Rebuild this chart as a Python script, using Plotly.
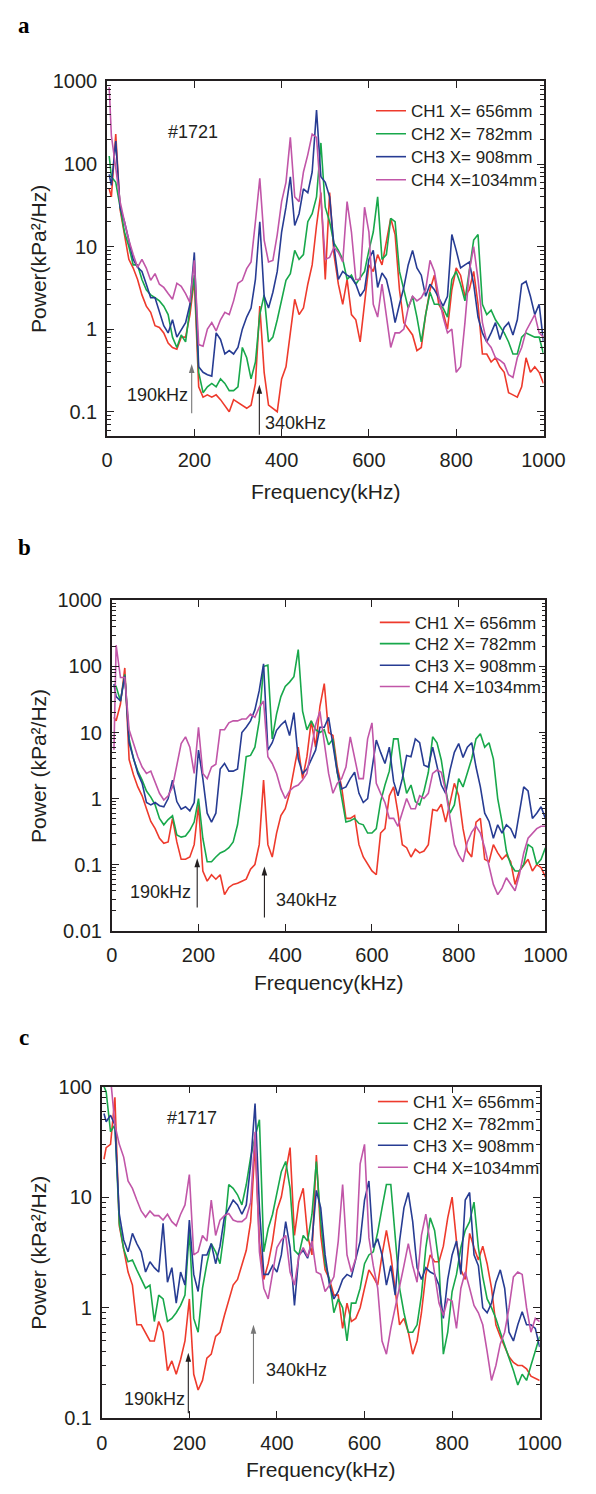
import numpy as np
import plotly.graph_objects as go

FONT = "Liberation Sans, Arial, Helvetica, sans-serif"
SERIF = "Liberation Serif, Times New Roman, serif"
INK = "#231f20"
GREY = "#777777"
W, H = 596, 1494

# frequency grid (kHz)
freq = [5] + list(range(10, 1001, 10))

channels = ["CH1 X= 656mm", "CH2 X= 782mm", "CH3 X= 908mm", "CH4 X=1034mm"]
colors = ["#ee3a2c", "#18a84b", "#273c93", "#c156a8"]

# ---------------- panel a (#1721) ----------------
a_ch1 = [50, 40, 230, 28, 14, 7, 5.5, 4, 2.6, 1.9,
         1.6, 1.1, 1.05, 0.9, 0.68, 0.6, 0.57, 0.8, 0.8, 1.5,
         4, 0.2, 0.15, 0.16, 0.15, 0.16, 0.14, 0.12, 0.1, 0.14,
         0.13, 0.12, 0.11, 0.12, 0.22, 1.9, 0.3, 0.12, 0.11, 0.1,
         0.25, 0.35, 0.9, 2.3, 1.5, 1.8, 3.5, 6, 18, 45,
         4, 45, 8, 3.5, 2, 4, 1.5, 1.3, 0.7, 2,
         6, 5, 8, 6, 12, 22, 14, 3, 1.2, 1.0,
         0.85, 0.55, 0.6, 1.5, 3, 4.5, 2, 1.6, 1.0, 3,
         5.5, 4.5, 2.5, 3, 5, 2, 0.5, 0.5, 0.4, 0.45,
         0.35, 0.3, 0.17, 0.16, 0.15, 0.2, 0.45, 0.3, 0.35, 0.3,
         0.22]
a_ch2 = [125, 70, 60, 30, 15, 10, 6, 6, 4, 3,
         2.6, 2.4, 2.2, 1.9, 1.5, 0.8, 0.6, 0.85, 0.7, 1.8,
         4.5, 0.3, 0.17, 0.2, 0.22, 0.2, 0.25, 0.22, 0.18, 0.18,
         0.2, 0.6, 0.45, 0.25, 0.4, 1.5, 2.6, 0.7, 0.8, 1.3,
         2.3, 3.9, 4.7, 9, 7, 8, 20, 25, 40, 180,
         30, 20, 11, 9, 7, 4, 4.5, 3.5, 4.2, 5,
         9, 15, 40, 7, 8, 22, 20, 5, 3, 1.8,
         2.5, 1.4, 0.7, 1.5, 2.8, 2, 2, 1.8, 1.4, 4,
         5, 3.5, 2.2, 5, 12, 14, 2, 1.5, 1.7, 1.3,
         1.1, 0.9, 0.7, 0.5, 0.5, 0.8, 0.9, 0.85, 0.8, 0.8,
         0.5]
a_ch3 = [75, 55, 190, 30, 20, 12, 7, 5.6, 5, 3.5,
         2.4, 2.4, 1.6, 1.1, 0.9, 1.3, 0.8, 1.0, 1.2, 2.0,
         8.5, 0.35, 0.3, 0.28, 0.27, 0.9, 0.75, 0.5, 0.55, 0.5,
         0.6, 1.0, 1.4, 1.8, 4, 20, 2.5, 1.8, 2.8, 5,
         15, 30, 70, 18, 25, 50, 45, 80, 450, 70,
         60, 40, 10, 4, 5, 4.5, 4.2, 3.5, 2.5, 3,
         7, 9, 3.2, 4.8, 4, 2.4, 1.2, 2, 3.2, 6,
         9, 5.5, 4.5, 2.5, 3.5, 3, 2.4, 1.9, 2.5, 14,
         9, 5.5, 6, 6.5, 3.5, 1.4, 0.9, 0.7, 0.9, 1.2,
         0.75, 1.05, 1.2, 0.85, 1.3, 3.5, 3.8, 2.5, 1.5, 2,
         0.7]
a_ch4 = [850, 220, 90, 35, 20, 12, 8, 5.6, 7, 5.5,
         3.9, 4.7, 3.5, 3.2, 2.7, 2.3, 3.6, 3.3, 2.7, 2.1,
         6.8, 0.65, 0.62, 1.0, 1.2, 0.95, 1.3, 1.6, 1.5, 2.2,
         3.6, 3.9, 5.4, 6.5, 20, 67, 12, 6.5, 6.8, 14,
         35, 60, 210, 40, 35, 80, 130, 230, 210, 40,
         7, 7.4, 9.8, 8.5, 6.5, 35, 15, 4, 4, 30,
         15, 2, 1.4, 3.5, 1.5, 0.6, 0.9, 0.9, 1.0, 1.8,
         2.5, 2.2, 2.4, 3, 6.8, 5, 2.5, 1.4, 0.9, 1.0,
         0.3, 0.35, 1.2, 5, 10, 4, 1.2, 0.7, 0.6, 0.45,
         0.42, 0.38, 0.28, 0.26, 0.45, 0.6, 0.95, 1.2, 1.5, 0.9,
         0.8]

# ---------------- panel b ----------------
b_ch1 = [17, 15, 27, 95, 3.9, 2.3, 1.5, 1.1, 0.7, 0.45,
         0.35, 0.25, 0.21, 0.22, 0.5, 0.22, 0.12, 0.12, 0.13, 0.2,
         0.8, 0.08, 0.056, 0.07, 0.06, 0.07, 0.035, 0.045, 0.05, 0.052,
         0.056, 0.06, 0.085, 0.1, 0.2, 1.9, 0.2, 0.13, 0.3, 0.55,
         0.7, 1.2, 2.7, 6, 2, 4.3, 15, 6, 25, 55,
         10, 9, 3, 1.5, 0.5, 0.5, 0.55, 0.2, 0.13, 0.1,
         0.08, 0.07, 0.3, 0.35, 1.1, 1.5, 0.6, 0.2, 0.18, 0.13,
         0.17, 0.15, 0.16, 0.2, 0.68, 0.65, 0.82, 0.44, 0.85, 1.7,
         1.1, 0.35, 0.16, 0.13, 0.44, 0.5, 0.12, 0.11, 0.2, 0.15,
         0.12, 0.14, 0.11, 0.05, 0.08, 0.1, 0.12, 0.08, 0.1, 0.09,
         0.065]
b_ch2 = [54, 50, 30, 76, 8, 4, 2.6, 1.9, 1.3, 1.05,
         0.8, 0.5, 0.4, 0.48, 0.55, 0.28, 0.26, 0.27, 0.33, 0.44,
         1.0, 0.25, 0.11, 0.11, 0.13, 0.15, 0.16, 0.18, 0.22, 0.4,
         1.2, 4.3, 4.5, 6, 15, 100, 105, 8, 19, 35,
         50, 58, 70, 180, 21, 11, 15, 11, 10, 11,
         6.5, 8, 2.5, 1.1, 0.44, 0.46, 0.5, 0.42, 0.4, 0.3,
         0.3, 0.35, 0.9, 1.6, 2.6, 8, 8, 2.5, 1.2, 1.6,
         0.9, 0.8, 1.3, 2.5, 8.6, 7, 3.8, 1.4, 0.6, 0.8,
         2, 1.5, 2.5, 4, 8, 9.6, 6, 7, 4, 1.0,
         0.44, 0.16, 0.1, 0.08, 0.08, 0.1, 0.2, 0.18, 0.1, 0.12,
         0.18]
b_ch3 = [54, 35, 30, 72, 7, 3.9, 2.4, 1.7, 0.87, 0.8,
         0.87, 0.78, 0.75, 1.0, 1.9, 0.9, 0.69, 0.75, 0.65, 0.87,
         5.4, 2, 0.6, 0.44, 0.6, 2.8, 3.4, 2.6, 2.6, 2.8,
         10, 12, 15, 22, 43, 110, 5.4, 7, 10.8, 13,
         15, 9, 20, 4, 2.4, 2.8, 4, 5.4, 12, 12,
         17, 6, 2.5, 1.4, 1.5, 2, 2.5, 1.2, 0.87, 1.0,
         2.8, 7.7, 5, 3.4, 6, 1.8, 1.1, 2, 4.5, 4.3,
         8, 7, 3.2, 3, 6, 3.2, 1.6, 1.2, 2.7, 5,
         6.8, 4.2, 6, 7, 3, 1.5, 0.6, 0.45, 0.25, 0.4,
         0.3, 0.4, 0.35, 0.25, 0.6, 1.5, 1.3, 0.5, 0.6, 0.75,
         0.5]
b_ch4 = [5.5, 210, 68, 68, 11, 6.8, 4.3, 3, 2.4, 2.6,
         1.8, 1.2, 0.95, 1.1, 1.5, 3.2, 6.8, 8.6, 6, 2.4,
         12, 2.4, 2, 3, 3.3, 11, 11, 14, 15, 15,
         16, 16, 19, 17, 24, 30, 4.3, 3.4, 2.4, 1.4,
         1.0, 1.3, 1.5, 1.6, 1.9, 2.4, 6, 13, 21, 7,
         2.4, 1.2, 1.7, 2, 3, 8.6, 4.4, 2.0, 2.0, 8,
         14, 1.7, 1.2, 0.87, 0.5, 0.5, 0.38, 0.6, 1.0, 0.7,
         0.7, 1.1, 1.0, 1.2, 2.4, 2.7, 2.5, 1.3, 0.5, 0.2,
         0.14, 0.11, 0.22, 0.31, 0.38, 0.3, 0.18, 0.1, 0.05, 0.035,
         0.044, 0.063, 0.05, 0.04, 0.07, 0.15, 0.25, 0.3, 0.35, 0.38,
         0.38]

# ---------------- panel c (#1717) ----------------
c_ch1 = [22, 28, 30, 80, 5.5, 3.4, 2.1, 1.6, 0.7, 0.7,
         0.6, 0.5, 0.5, 0.75, 0.6, 0.27, 0.33, 0.25, 0.34, 0.5,
         1.2, 0.25, 0.18, 0.22, 0.35, 0.38, 0.55, 0.6, 0.85, 1.15,
         1.6, 1.8, 2.4, 3.3, 6, 30, 4, 1.8, 2.5, 4,
         7.6, 10, 17, 28, 4.5, 9, 12, 4.5, 3, 24,
         4.5, 2.2, 1.8, 1.3, 1.3, 0.65, 1.1, 0.75, 0.8, 1.0,
         1.5, 2.2, 1.9, 1.6, 3, 5, 3, 1.4, 0.7, 0.8,
         0.6, 0.38, 0.5, 0.9, 2.0, 3, 2.6, 2.6, 3.6, 6.5,
         10, 4, 2.2, 1.8, 4.7, 3.5, 2.7, 3.6, 2.5, 1.5,
         0.7, 0.55, 0.44, 0.36, 0.32, 0.3, 0.3, 0.28, 0.24, 0.23,
         0.22]
c_ch2 = [100, 90, 39, 45, 5.8, 3.4, 2.6, 2.7, 2.2, 1.8,
         1.5, 1.6, 0.75, 1.3, 1.2, 0.75, 0.8, 0.9, 1.05, 1.3,
         5, 0.8, 0.6, 1.5, 2.5, 3.8, 3.2, 2.5, 5, 13,
         12, 10.5, 8.5, 13, 23, 35, 50, 3.2, 5.2, 7,
         11, 17, 21, 12, 3.3, 3, 4.5, 4, 7, 21,
         6, 2.5, 1.8, 0.9, 1.2, 1.0, 0.5, 1.1, 1.1, 1.5,
         2.5, 3, 3.2, 4.8, 8, 13, 13, 4, 1.5, 0.9,
         0.6, 0.6, 0.7, 1.3, 3.5, 6.5, 5, 2.5, 0.38, 0.6,
         1.4, 2, 3.5, 5, 6, 9, 3.5, 1.9, 1.2, 1.0,
         0.8, 0.6, 0.45, 0.35, 0.27, 0.2, 0.25, 0.22, 0.3, 0.4,
         0.55]
c_ch3 = [57, 48, 55, 45, 7, 4.1, 3.2, 4.7, 3.8, 3.2,
         2.1, 2.6, 2.3, 2.1, 5.8, 1.7, 2.3, 1.1, 2.1, 1.6,
         6.2, 2, 1.4, 3, 3, 3.8, 2.5, 3.6, 6.6, 8,
         9.4, 8.5, 7, 8.5, 20, 70, 8, 2, 2, 2.4,
         2.1, 3, 6, 3.5, 1.05, 3, 3.3, 2.8, 4, 11.5,
         8, 3, 1.6, 1.2, 1.4, 1.8, 2, 1.9, 2.8, 4,
         9.4, 14, 3.5, 4.2, 3, 1.6, 2.4, 1.3, 4, 8,
         11, 6, 2.3, 1.8, 2.3, 2.1, 2.0, 1.6, 0.8, 1.8,
         3, 4, 2, 9.4, 11, 3, 2.4, 1.0, 0.9, 1.1,
         1.7, 2.2, 1.5, 0.6, 0.5, 0.7, 0.92, 0.7, 0.7, 0.65,
         0.44]
c_ch4 = [180, 150, 120, 45, 30, 23, 14, 12, 9.4, 7.5,
         6.6, 7.5, 6.8, 6.8, 6.2, 7, 6, 5.5, 7, 8.5,
         16, 3, 3.2, 4.5, 4, 9.4, 4.5, 6.2, 6.8, 7.1,
         6.2, 6, 6, 6.5, 9, 39, 3.2, 1.5, 1.2, 2.1,
         3.5, 4.1, 4.5, 2.1, 1.6, 2.9, 3.5, 2.9, 4, 2.1,
         2, 1.4, 1.6, 1.9, 4, 13, 3, 2.1, 2.8, 20,
         30, 4.3, 2.4, 1.5, 0.5, 0.38, 0.65, 1.0, 1.5, 2.4,
         3.8, 2.4, 1.7, 4.5, 7, 3.8, 2.2, 1.1, 0.85, 1.2,
         1.15, 0.65, 1.5, 2.1, 1.5, 1.05, 0.9, 0.7, 0.4, 0.22,
         0.3, 0.47, 0.6, 1.0, 1.9, 2.1, 2.0, 1.0, 0.6, 0.8,
         0.75]

x_ticks = [0, 200, 400, 600, 800, 1000]

# panel geometry (pixels in the 596x1494 page) and settings
# arrows: (frequency, head pixel-y, tail pixel-y, colour)
panels = [
    dict(tag="a", series=[a_ch1, a_ch2, a_ch3, a_ch4],
         left=106, right=564, top=71.5, bottom=431, yrange=[-1.29, 3],
         yticks=[0.1, 1, 10, 100, 1000], ytext=["0.1", "1", "10", "100", "1000"],
         ytitle="Power(kPa²/Hz)", label_y=15, xtitle_y=488,
         leg_x=423, leg_rows=[101.7, 125, 148.3, 171.7],
         shot="#1721", shot_pos=(196, 2.382),
         arrows=[(194, 358.3, 408.3, GREY), (349, 379.3, 430, INK)],
         t190=(190, 0.158), t340=(357, 0.0726)),
    dict(tag="b", series=[b_ch1, b_ch2, b_ch3, b_ch4],
         left=111, right=566, top=598.3, bottom=933.3, yrange=[-2, 3],
         yticks=[0.01, 0.1, 1, 10, 100, 1000],
         ytext=["0.01", "0.1", "1", "10", "100", "1000"],
         ytitle="Power (kPa²/Hz)", label_y=545, xtitle_y=986,
         leg_x=427, leg_rows=[621, 642.5, 664.5, 686],
         shot=None, shot_pos=None,
         arrows=[(197, 860, 910, INK), (352, 868.3, 920, INK)],
         t190=(188, 0.0386), t340=(373, 0.029)),
    dict(tag="c", series=[c_ch1, c_ch2, c_ch3, c_ch4],
         left=100.5, right=560, top=1091.6, bottom=1428.3, yrange=[-1, 2],
         yticks=[0.1, 1, 10, 100], ytext=["0.1", "1", "10", "100"],
         ytitle="Power (kPa²/Hz)", label_y=1042, xtitle_y=1480,
         leg_x=425, leg_rows=[1107.3, 1129.3, 1151.7, 1174],
         shot="#1717", shot_pos=(205, 1.711),
         arrows=[(197.6, 1361.7, 1423.3, INK), (346.4, 1333.3, 1393.3, GREY)],
         t190=(195, 0.150), t340=(370, 0.273)),
]

fig = go.Figure()
annotations = []
shapes = []
layout = {}
leg_index = 0
HEAD_LEN, HEAD_HALF = 9, 2.8

for p_i, p in enumerate(panels):
    n = "" if p_i == 0 else str(p_i + 1)
    xa, ya = "x" + n, "y" + n
    # traces, one legend box per entry so each row sits where the reference has it
    for c_i, vals in enumerate(p["series"]):
        lname = "legend" if leg_index == 0 else "legend%d" % (leg_index + 1)
        fig.add_trace(go.Scatter(
            x=freq, y=vals, mode="lines", name=channels[c_i],
            line=dict(color=colors[c_i], width=1.6),
            xaxis=xa, yaxis=ya, legend=lname, hoverinfo="skip"))
        layout[lname] = dict(
            x=(p["leg_x"] - 40) / W, y=1 - p["leg_rows"][c_i] / H,
            xanchor="left", yanchor="middle",
            bgcolor="rgba(0,0,0,0)", borderwidth=0, itemwidth=30,
            font=dict(family=FONT, size=17, color=INK))
        leg_index += 1

    d0, d1 = p["yrange"]
    minor_vals = [k * 10 ** d for d in range(int(np.floor(d0)), int(np.ceil(d1)))
                  for k in range(2, 10)]
    layout["xaxis" + n] = dict(
        domain=[p["left"] / W, p["right"] / W], anchor=ya, range=[0, 1000],
        tickmode="array", tickvals=x_ticks, ticks="inside", ticklen=7,
        tickwidth=1.3, tickcolor=INK, showline=True, linewidth=1.6,
        linecolor=INK, mirror="ticks", showgrid=False, zeroline=False,
        ticklabelstandoff=6,
        tickfont=dict(family=FONT, size=20, color=INK))
    layout["yaxis" + n] = dict(
        domain=[1 - p["bottom"] / H, 1 - p["top"] / H], anchor=xa,
        type="log", range=p["yrange"], tickmode="array",
        tickvals=p["yticks"], ticktext=p["ytext"], ticks="inside",
        ticklen=7, tickwidth=1.3, tickcolor=INK, showline=True,
        linewidth=1.6, linecolor=INK, mirror="ticks", showgrid=False,
        zeroline=False, ticklabelstandoff=4,
        minor=dict(tickmode="array", tickvals=minor_vals, ticks="inside",
                   ticklen=4, tickwidth=1, tickcolor=INK, showgrid=False),
        tickfont=dict(family=FONT, size=20, color=INK))

    # panel letter
    annotations.append(dict(xref="paper", yref="paper", x=19 / W, y=1 - p["label_y"] / H,
                            text=p["tag"], showarrow=False,
                            xanchor="center", yanchor="middle",
                            font=dict(family=SERIF, size=23, color="black", weight="bold")))
    # axis titles
    annotations.append(dict(xref="paper", yref="paper",
                            x=(p["left"] + p["right"]) / 2 / W, y=1 - p["xtitle_y"] / H,
                            text="Frequency(kHz)", showarrow=False,
                            xanchor="center", yanchor="middle",
                            font=dict(family=FONT, size=21, color=INK)))
    annotations.append(dict(xref="paper", yref="paper", x=34 / W,
                            y=1 - (p["top"] + p["bottom"]) / 2 / H,
                            text=p["ytitle"], showarrow=False, textangle=-90,
                            xanchor="center", yanchor="middle",
                            font=dict(family=FONT, size=21, color=INK)))
    # shot number
    if p["shot"]:
        annotations.append(dict(xref=xa, yref=ya, x=p["shot_pos"][0], y=p["shot_pos"][1],
                                text=p["shot"], showarrow=False,
                                xanchor="center", yanchor="middle",
                                font=dict(family=FONT, size=18, color=INK)))
    # arrows marking 190 kHz and 340 kHz: shaft + filled head
    for (fx, head_px, tail_px, col) in p["arrows"]:
        shapes.append(dict(type="line", xref=xa, yref="paper",
                           x0=fx, x1=fx, y0=1 - tail_px / H, y1=1 - (head_px + HEAD_LEN - 1) / H,
                           line=dict(color=col, width=1.1), layer="above"))
        shapes.append(dict(type="path", xref=xa, yref="paper",
                           xsizemode="pixel", ysizemode="pixel",
                           xanchor=fx, yanchor=1 - head_px / H,
                           path="M0,0 L%.1f,%d L%.1f,%d Z" % (-HEAD_HALF, -HEAD_LEN, HEAD_HALF, -HEAD_LEN),
                           fillcolor=col, line=dict(width=0), layer="above"))
    annotations.append(dict(xref=xa, yref=ya, x=p["t190"][0], y=np.log10(p["t190"][1]),
                            text="190kHz", showarrow=False, xanchor="right", yanchor="middle",
                            font=dict(family=FONT, size=18, color=INK)))
    annotations.append(dict(xref=xa, yref=ya, x=p["t340"][0], y=np.log10(p["t340"][1]),
                            text="340kHz", showarrow=False, xanchor="left", yanchor="middle",
                            font=dict(family=FONT, size=18, color=INK)))

fig.update_layout(
    width=W, height=H, margin=dict(l=0, r=0, t=0, b=0),
    paper_bgcolor="white", plot_bgcolor="white", showlegend=True,
    annotations=annotations, shapes=shapes, **layout)

# remove the browser's default 8px body margin so the figure sits at the page origin
fig.write_html("out.html",
               config={"displayModeBar": False},
               post_script="document.body.style.margin='0px';document.body.style.padding='0px';")
